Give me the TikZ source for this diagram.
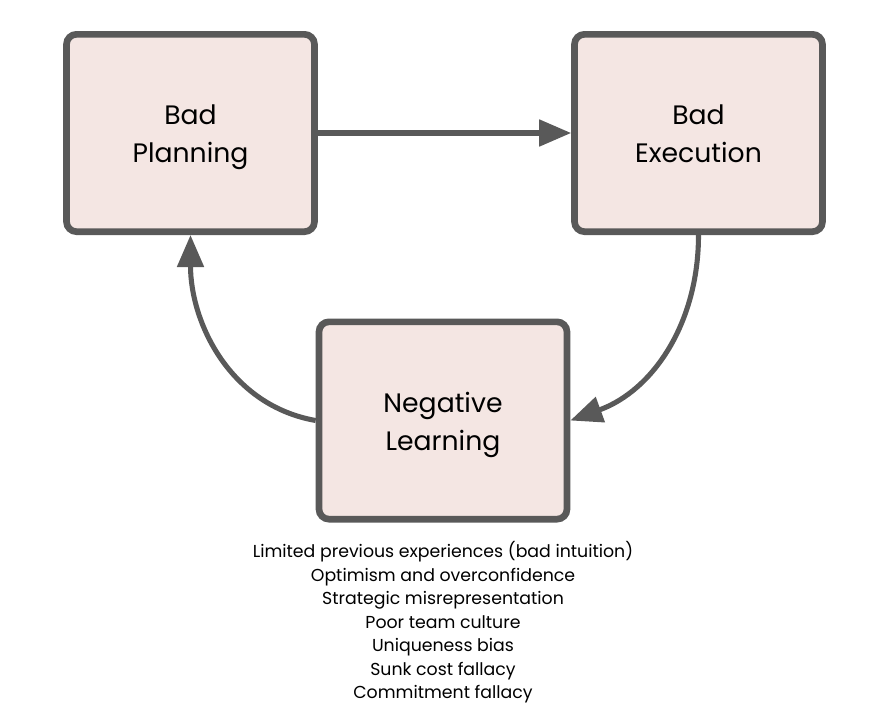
\documentclass[tikz,border=0pt]{standalone}
\usepackage{fontspec}
\setmainfont{Poppins}
\usetikzlibrary{arrows.meta,positioning}
\definecolor{boxfill}{RGB}{244,230,227}
\definecolor{boxline}{RGB}{89,89,89}
\newcommand{\topline}{\rule{0pt}{24.5pt}}
\tikzset{every picture/.style={line width=0.75pt}}

\begin{document}
\begin{tikzpicture}[x=0.75pt,y=0.75pt,yscale=-1,xscale=1,
    stagebox/.style={draw=boxline,fill=boxfill,line width=5pt,rounded corners=7.5pt,
      minimum width=186pt,minimum height=148pt,align=center,font=\fontsize{20}{28.5}\selectfont},
    flow/.style={draw=boxline,line width=3.8pt,-{Triangle[length=24pt,width=19.5pt]}}]
\useasboundingbox (0,0) rectangle (892,722);

%Stage boxes
\node [stagebox] (plan) at (190.5,133) {\topline Bad\\Planning\strut};
\node [stagebox] (exec) at (698.5,133) {\topline Bad\\Execution\strut};
\node [stagebox] (learn) at (443,420.5) {\topline Negative\\Learning\strut};

%Causes under the learning box
\node [below=14pt of learn,align=center,inner sep=0pt,font=\fontsize{13}{17.6}\selectfont] (causes) {Limited previous experiences (bad intuition)\\Optimism and overconfidence\\Strategic misrepresentation\\Poor team culture\\Uniqueness bias\\Sunk cost fallacy\\Commitment fallacy};

%Cycle arrows (angles flipped because of yscale=-1)
\draw [flow] (plan) -- (exec);
\draw [flow] (exec.south) to [out=90,in=-20] (learn.east);
\draw [flow] (learn.west) to [out=-170,in=90] (plan.south);

\end{tikzpicture}
\end{document}
